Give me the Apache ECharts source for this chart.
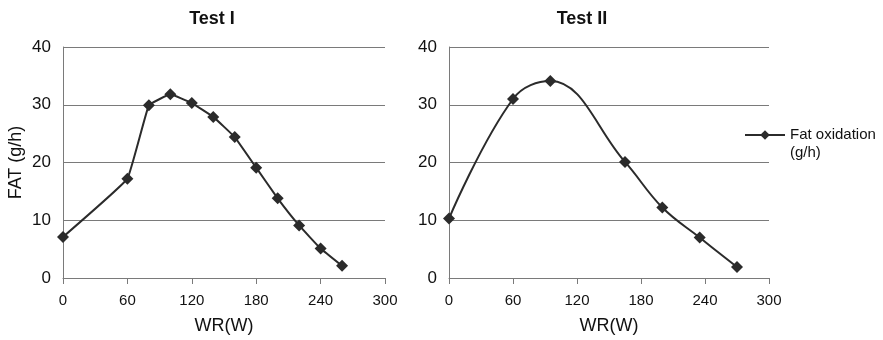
<!DOCTYPE html>
<html>
<head>
<meta charset="utf-8">
<script src="https://cdn.jsdelivr.net/npm/echarts@6/dist/echarts.min.js"></script>
<style>
  html, body { margin: 0; padding: 0; background: #fff; }
  #chart { width: 883px; height: 340px; }
</style>
</head>
<body>
<div id="chart"></div>
<script>
// Test I: work rate (W) vs fat oxidation (g/h)
const test1W = [0, 60, 80, 100, 120, 140, 160, 180, 200, 220, 240, 260];
const test1Fat = [7.1, 17.2, 29.9, 31.8, 30.3, 27.9, 24.4, 19.1, 13.8, 9.1, 5.1, 2.1];

// Test II
const test2W = [0, 60, 95, 165, 200, 235, 270];
const test2Fat = [10.3, 31.0, 34.1, 20.1, 12.2, 7.0, 1.9];

const titles = ['Test I', 'Test II'];
const seriesName = 'Fat oxidation (g/h)';
const yTicks = { min: 0, max: 40, interval: 10 };
const xTicks = { min: 0, max: 300, interval: 60 };

const font = 'Liberation Sans, Arial, sans-serif';
const lineColor = '#2b2b2b';
const gridColor = '#7a7a7a';

function xAxisFor(i) {
  return {
    type: 'value',
    gridIndex: i,
    min: xTicks.min,
    max: xTicks.max,
    interval: xTicks.interval,
    name: 'WR(W)',
    nameLocation: 'middle',
    nameGap: 39,
    nameTextStyle: { fontFamily: font, fontSize: 18, color: '#111' },
    axisLine: { show: true, lineStyle: { color: gridColor, width: 1 } },
    axisTick: { show: true, length: 6, lineStyle: { color: gridColor } },
    axisLabel: { fontFamily: font, fontSize: 15, color: '#111', margin: 15 },
    splitLine: { show: false }
  };
}

function yAxisFor(i) {
  return {
    type: 'value',
    gridIndex: i,
    min: yTicks.min,
    max: yTicks.max,
    interval: yTicks.interval,
    name: i === 0 ? 'FAT (g/h)' : '',
    nameLocation: 'middle',
    nameGap: 38,
    nameTextStyle: { fontFamily: font, fontSize: 18, color: '#111' },
    axisLine: { show: true, lineStyle: { color: gridColor, width: 1 } },
    axisTick: { show: false },
    axisLabel: { fontFamily: font, fontSize: 17, color: '#111', margin: 12 },
    splitLine: { show: true, lineStyle: { color: gridColor, width: 1 } }
  };
}

function seriesFor(i, xs, ys, smooth) {
  return {
    name: seriesName,
    type: 'line',
    xAxisIndex: i,
    yAxisIndex: i,
    data: xs.map((x, k) => [x, ys[k]]),
    smooth: smooth,
    symbol: 'diamond',
    symbolSize: 12,
    itemStyle: { color: lineColor },
    lineStyle: { color: lineColor, width: 2 }
  };
}

const chart = echarts.init(document.getElementById('chart'), null, { renderer: 'canvas' });
const option = {
  animation: false,
  backgroundColor: '#fff',
  title: [
    { text: titles[0], left: 207, top: 5, textAlign: 'center',
      textStyle: { fontFamily: font, fontSize: 18, fontWeight: 'bold', color: '#111' } },
    { text: titles[1], left: 577, top: 5, textAlign: 'center',
      textStyle: { fontFamily: font, fontSize: 18, fontWeight: 'bold', color: '#111' } }
  ],
  legend: {
    left: 744,
    top: 108,
    padding: 0,
    itemWidth: 40,
    itemHeight: 12,
    data: [seriesName],
    // leading blank line keeps the first text line level with the icon
    formatter: () => '\nFat oxidation\n(g/h)',
    textStyle: { fontFamily: font, fontSize: 15, color: '#111', lineHeight: 18 }
  },
  grid: [
    { left: 63, top: 47, width: 322, height: 231 },
    { left: 449, top: 47, width: 320, height: 231 }
  ],
  xAxis: [xAxisFor(0), xAxisFor(1)],
  yAxis: [yAxisFor(0), yAxisFor(1)],
  series: [
    seriesFor(0, test1W, test1Fat, 0.08),
    seriesFor(1, test2W, test2Fat, 0.4)
  ]
};
chart.setOption(option);
</script>
</body>
</html>
